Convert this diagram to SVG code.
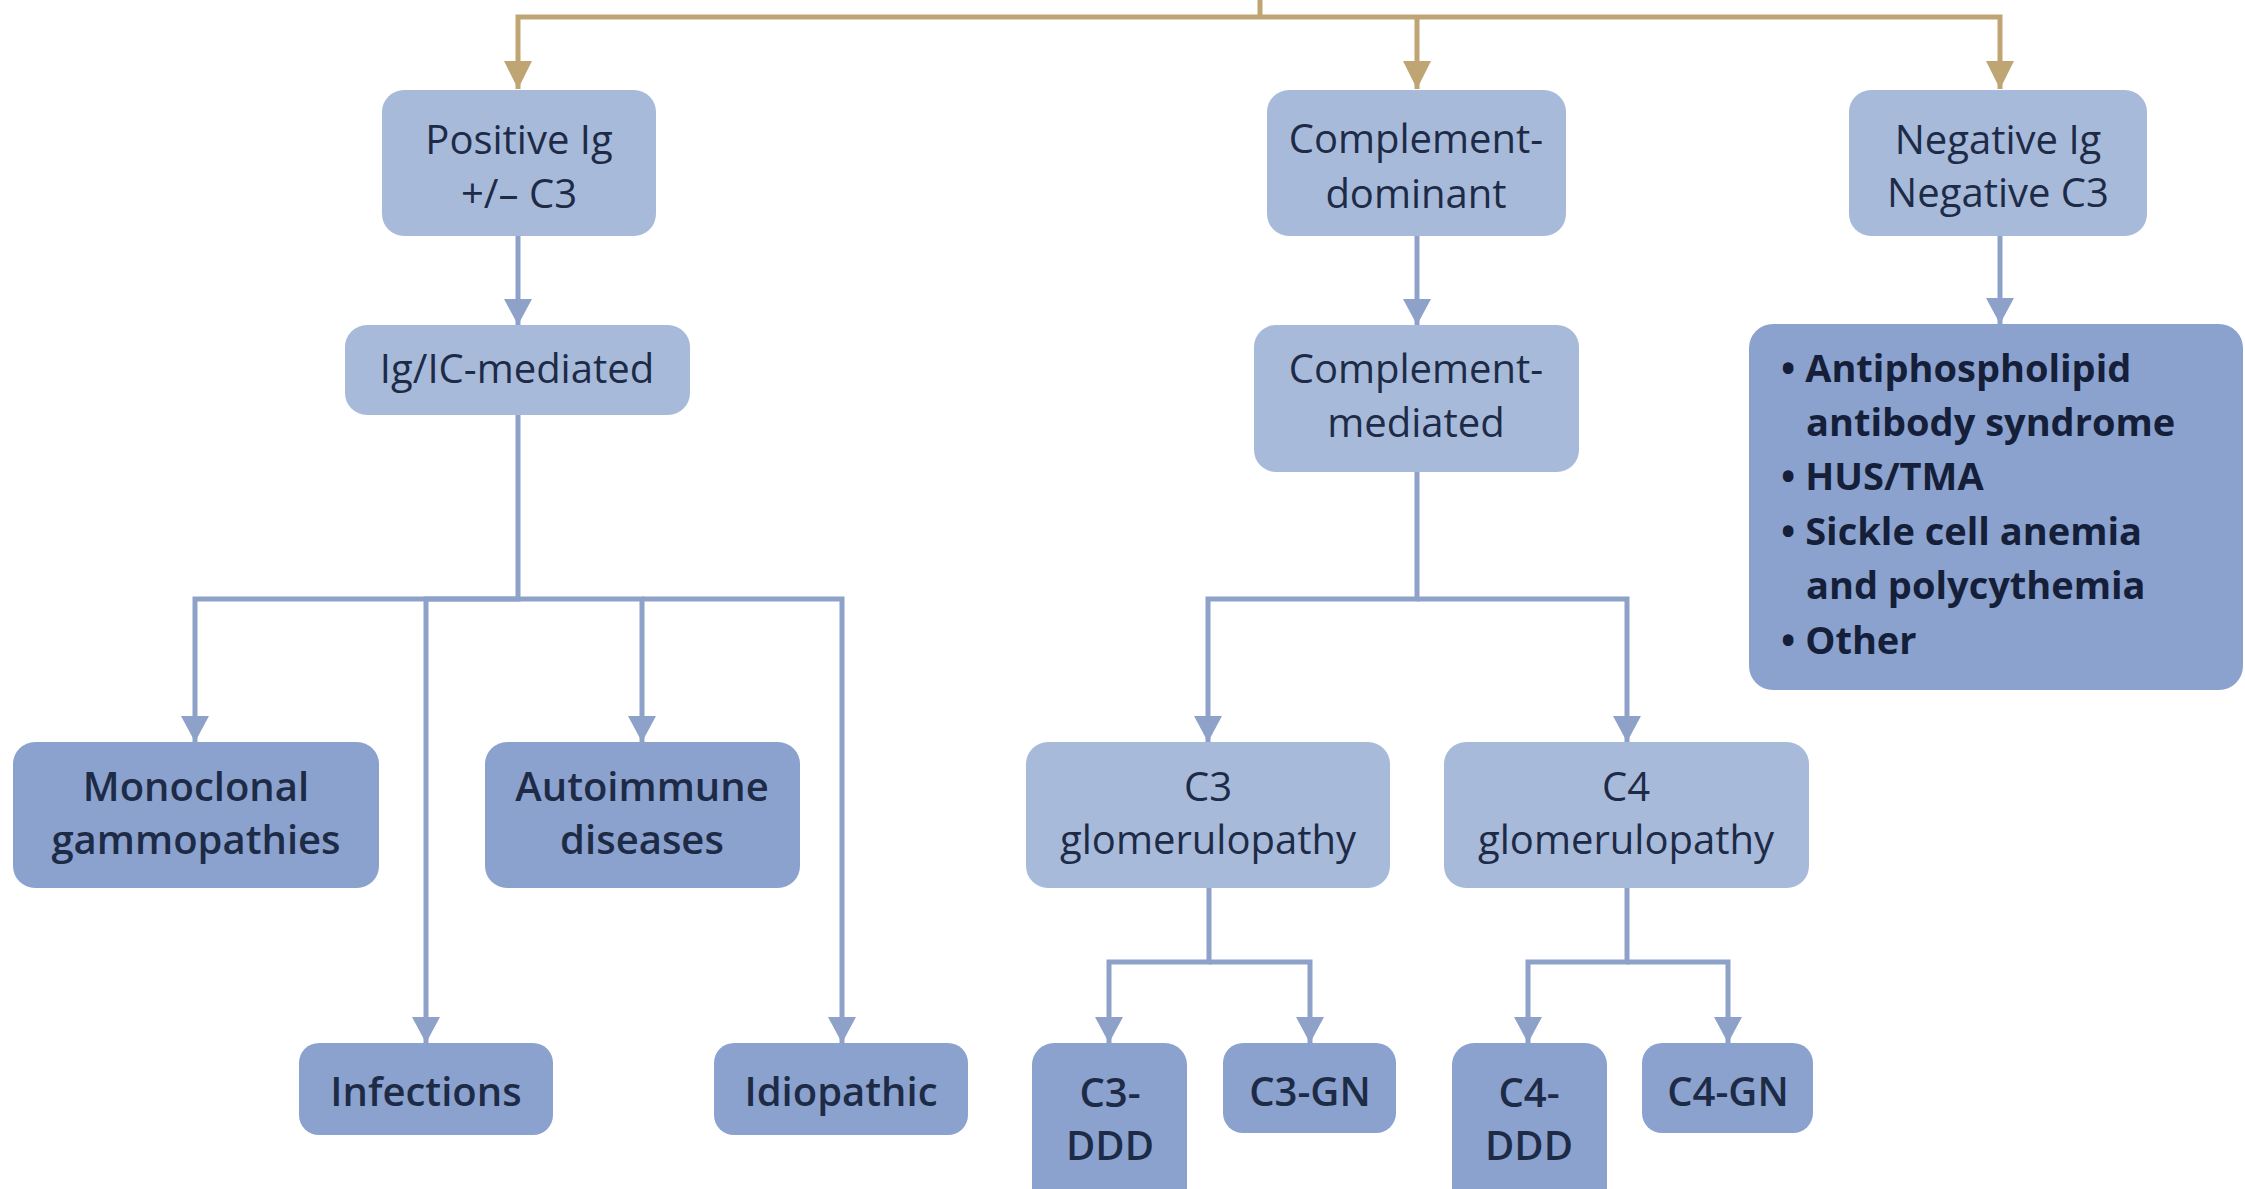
<svg xmlns="http://www.w3.org/2000/svg" width="2245" height="1189" viewBox="0 0 2245 1189">
<style>
.light{fill:#A8BADA}
.dark{fill:#8BA2CE}
.t{font-family:"Open Sans","Noto Sans",sans-serif;font-size:40px;fill:#1E2B47;text-anchor:middle}
.sb{font-weight:600}
.lst{font-family:"Open Sans","Noto Sans",sans-serif;font-size:38px;font-weight:700;fill:#151F3A}
.gold{fill:none;stroke:#BFA573;stroke-width:5}
.blue{fill:none;stroke:#8EA1C8;stroke-width:5}
</style>
<defs>
<marker id="ag" markerUnits="userSpaceOnUse" viewBox="0 0 28 28" refX="28" refY="14" markerWidth="28" markerHeight="28" orient="auto"><path d="M0,0 L28,14 L0,28 z" fill="#BFA573"/></marker>
<marker id="ab" markerUnits="userSpaceOnUse" viewBox="0 0 26 28" refX="26" refY="14" markerWidth="26" markerHeight="28" orient="auto"><path d="M0,0 L26,14 L0,28 z" fill="#8EA1C8"/></marker>
</defs>
<rect width="2245" height="1189" fill="#FFFFFF"/>
<g id="connectors">
<path class="gold" d="M1260,0 V17"/>
<path class="gold" d="M1260,17 H518 V89" marker-end="url(#ag)"/>
<path class="gold" d="M1260,17 H2000 V89" marker-end="url(#ag)"/>
<path class="gold" d="M1417,17 V89" marker-end="url(#ag)"/>
<path class="blue" d="M518,236 V325" marker-end="url(#ab)"/>
<path class="blue" d="M1417,236 V325" marker-end="url(#ab)"/>
<path class="blue" d="M2000,236 V324" marker-end="url(#ab)"/>
<path class="blue" d="M518,415 V599 H195 V742" marker-end="url(#ab)"/>
<path class="blue" d="M518,599 H426 V1043" marker-end="url(#ab)"/>
<path class="blue" d="M518,599 H642 V742" marker-end="url(#ab)"/>
<path class="blue" d="M642,599 H842 V1043" marker-end="url(#ab)"/>
<path class="blue" d="M1417,472 V599 H1208 V742" marker-end="url(#ab)"/>
<path class="blue" d="M1417,599 H1627 V742" marker-end="url(#ab)"/>
<path class="blue" d="M1209,888 V962 H1109 V1043" marker-end="url(#ab)"/>
<path class="blue" d="M1209,962 H1310 V1043" marker-end="url(#ab)"/>
<path class="blue" d="M1627,888 V962 H1528 V1043" marker-end="url(#ab)"/>
<path class="blue" d="M1627,962 H1728 V1043" marker-end="url(#ab)"/>
</g>
<g id="n-positive-ig">
<rect class="light" x="382" y="90" width="274" height="146" rx="22"/>
<text class="t" x="519" y="154">Positive Ig</text>
<text class="t" x="519" y="208">+/– C3</text>
</g>
<g id="n-complement-dominant">
<rect class="light" x="1267" y="90" width="299" height="146" rx="22"/>
<text class="t" x="1416" y="153">Complement-</text>
<text class="t" x="1416" y="208">dominant</text>
</g>
<g id="n-negative">
<rect class="light" x="1849" y="90" width="298" height="146" rx="22"/>
<text class="t" x="1998" y="154">Negative Ig</text>
<text class="t" x="1998" y="207">Negative C3</text>
</g>
<g id="n-ig-ic">
<rect class="light" x="345" y="325" width="345" height="90" rx="22"/>
<text class="t" x="517" y="383">Ig/IC-mediated</text>
</g>
<g id="n-complement-mediated">
<rect class="light" x="1254" y="325" width="325" height="147" rx="22"/>
<text class="t" x="1416" y="383">Complement-</text>
<text class="t" x="1416" y="437">mediated</text>
</g>
<g id="n-list">
<rect class="dark" x="1749" y="324" width="494" height="366" rx="24"/>
<text class="lst" x="1781" y="382">• Antiphospholipid</text>
<text class="lst" x="1806" y="436">antibody  syndrome</text>
<text class="lst" x="1781" y="490">• HUS/TMA</text>
<text class="lst" x="1781" y="545">• Sickle cell anemia</text>
<text class="lst" x="1806" y="599">and polycythemia</text>
<text class="lst" x="1781" y="654">• Other</text>
</g>
<g id="n-monoclonal">
<rect class="dark" x="13" y="742" width="366" height="146" rx="22"/>
<text class="t sb" x="196" y="801">Monoclonal</text>
<text class="t sb" x="196" y="854">gammopathies</text>
</g>
<g id="n-autoimmune">
<rect class="dark" x="485" y="742" width="315" height="146" rx="22"/>
<text class="t sb" x="642" y="801">Autoimmune</text>
<text class="t sb" x="642" y="854">diseases</text>
</g>
<g id="n-infections">
<rect class="dark" x="299" y="1043" width="254" height="92" rx="20"/>
<text class="t sb" x="426" y="1106">Infections</text>
</g>
<g id="n-idiopathic">
<rect class="dark" x="714" y="1043" width="254" height="92" rx="20"/>
<text class="t sb" x="841" y="1106">Idiopathic</text>
</g>
<g id="n-c3-glom">
<rect class="light" x="1026" y="742" width="364" height="146" rx="22"/>
<text class="t" x="1208" y="801">C3</text>
<text class="t" x="1208" y="854">glomerulopathy</text>
</g>
<g id="n-c4-glom">
<rect class="light" x="1444" y="742" width="365" height="146" rx="22"/>
<text class="t" x="1626" y="801">C4</text>
<text class="t" x="1626" y="854">glomerulopathy</text>
</g>
<g id="n-c3-ddd">
<rect class="dark" x="1032" y="1043" width="155" height="170" rx="22"/>
<text class="t sb" x="1110" y="1107">C3-</text>
<text class="t sb" x="1110" y="1160">DDD</text>
</g>
<g id="n-c3-gn">
<rect class="dark" x="1223" y="1043" width="173" height="90" rx="20"/>
<text class="t sb" x="1310" y="1106">C3-GN</text>
</g>
<g id="n-c4-ddd">
<rect class="dark" x="1452" y="1043" width="155" height="170" rx="22"/>
<text class="t sb" x="1529" y="1107">C4-</text>
<text class="t sb" x="1529" y="1160">DDD</text>
</g>
<g id="n-c4-gn">
<rect class="dark" x="1642" y="1043" width="171" height="90" rx="20"/>
<text class="t sb" x="1728" y="1106">C4-GN</text>
</g>
</svg>
